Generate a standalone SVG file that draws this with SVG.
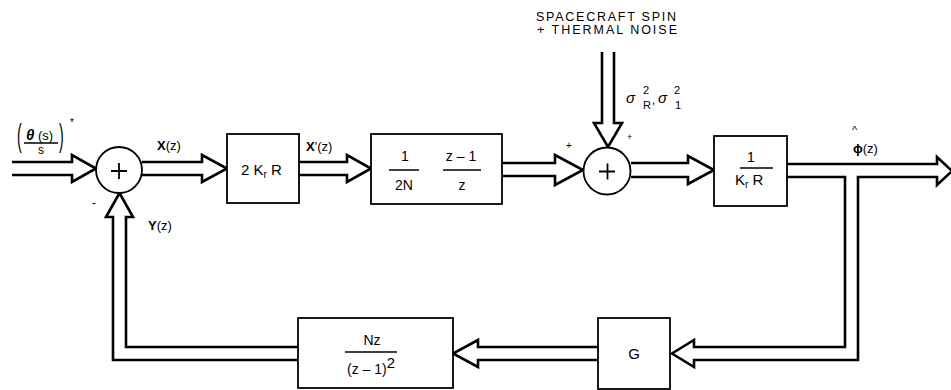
<svg xmlns="http://www.w3.org/2000/svg" width="951" height="390" viewBox="0 0 951 390">
<style>
text{font-family:"Liberation Sans",Arial,sans-serif;fill:#000}
.arr{fill:#fff;stroke:#000;stroke-width:2.6;stroke-linejoin:miter}
.box{fill:#fff;stroke:#000;stroke-width:1.8}
.sum{fill:#fff;stroke:#000;stroke-width:1.8}
.frac{stroke:#000;stroke-width:1.5}
.t13{font-size:13px}
.t14{font-size:14px}
.b{font-weight:bold}
</style>
<rect width="951" height="390" fill="#fff"/>
<g id="connectors">
<path class="arr" d="M12,162 H72 V155 L96,168.5 L72,182 V175 H12"/>
<path class="arr" d="M142,162 H202 V155 L227,168.5 L202,182 V175 H142"/>
<path class="arr" d="M299,162 H347 V155 L371,168.5 L347,182 V175 H299"/>
<path class="arr" d="M502,163 H555 V155 L583,170 L555,185 V176 H502"/>
<path class="arr" d="M602,52 V123 H594 L608,147 L622,123 H614 V52"/>
<path class="arr" d="M631,163 H688 V156 L714,170 L688,184 V177 H631"/>
<path class="arr" d="M787,164 H937 V157 L952,171 L937,185 V177 H858 V360 H694 V367 L672,353.5 L694,340 V347 H845 V177 H787"/>
<path class="arr" d="M598,347 H478 V340 L453,353.5 L478,367 V360 H598"/>
<path class="arr" d="M298,360 H113 V217 H106 L119.5,193 L133,217 H126 V347 H298"/>
</g>
<g id="sum1">
<circle class="sum" cx="119" cy="170" r="23"/>
<path d="M111,171 H127 M119,163 V179" stroke="#000" stroke-width="1.8"/>
</g>
<g id="sum2">
<circle class="sum" cx="607" cy="171" r="23.5"/>
<path d="M599,171.5 H615 M607.5,163.5 V179.5" stroke="#000" stroke-width="1.8"/>
</g>
<g id="box-gain">
<rect class="box" x="227" y="134" width="72" height="69"/>
<text x="241" y="175" font-size="15">2 K<tspan font-size="10" dy="3">r</tspan><tspan dy="-3"> R</tspan></text>
</g>
<g id="box-filter">
<rect class="box" x="371" y="134" width="131" height="70"/>
<text class="t14" x="405" y="161" text-anchor="middle">1</text>
<line class="frac" x1="389" y1="170" x2="419" y2="170"/>
<text class="t14" x="404" y="190" text-anchor="middle">2N</text>
<text class="t14" x="461" y="161" text-anchor="middle">z – 1</text>
<line class="frac" x1="443" y1="170" x2="481" y2="170"/>
<text class="t14" x="462" y="190" text-anchor="middle">z</text>
</g>
<g id="box-inv">
<rect class="box" x="714" y="136" width="73" height="70"/>
<text class="t14" x="751" y="162" text-anchor="middle">1</text>
<line class="frac" x1="740" y1="168" x2="773" y2="168"/>
<text x="735" y="185" font-size="15">K<tspan font-size="10" dy="3">r</tspan><tspan dy="-3"> R</tspan></text>
</g>
<g id="box-G">
<rect class="box" x="598" y="318" width="72" height="71"/>
<text x="634" y="359" font-size="15" text-anchor="middle">G</text>
</g>
<g id="box-Nz">
<rect class="box" x="298" y="318" width="155" height="70"/>
<text class="t14" x="372" y="345" text-anchor="middle">Nz</text>
<line class="frac" x1="345" y1="352" x2="397" y2="352"/>
<text class="t14" x="347" y="374">(z – 1)<tspan font-size="15" dy="-6">2</tspan></text>
</g>
<g id="labels">
<text transform="translate(17,146) scale(1,2.3)" font-size="14">(</text>
<text x="26" y="140" font-size="15" class="b" font-style="italic">θ</text>
<text x="38" y="140" class="t13">(s)</text>
<line class="frac" x1="24" y1="143" x2="58" y2="143"/>
<text x="41" y="154" font-size="12" text-anchor="middle">s</text>
<text transform="translate(59,146) scale(1,2.3)" font-size="14">)</text>
<text x="70" y="126" font-size="10">*</text>
<text x="157" y="150" class="t13"><tspan class="b">X</tspan>(z)</text>
<text x="148" y="230" class="t13"><tspan class="b">Y</tspan>(z)</text>
<text x="92" y="207" font-size="12">-</text>
<text x="306" y="151" class="t13"><tspan class="b">X</tspan>'(z)</text>
<text x="536" y="21" font-size="12.5" textLength="140" lengthAdjust="spacing">SPACECRAFT SPIN</text>
<text x="537" y="34" font-size="12.5" textLength="140" lengthAdjust="spacing">+ THERMAL NOISE</text>
<text x="626" y="103" font-size="15" font-family="Liberation Serif" font-style="italic">σ</text>
<text x="643" y="94" font-size="11">2</text>
<text x="643" y="109" font-size="11">R</text>
<text x="652" y="104" font-size="12">,</text>
<text x="658" y="103" font-size="15" font-family="Liberation Serif" font-style="italic">σ</text>
<text x="674" y="94" font-size="11">2</text>
<text x="675" y="109" font-size="11">1</text>
<text x="566" y="149" font-size="10">+</text>
<text x="627" y="140" font-size="9">+</text>
<text x="852" y="134" font-size="11">^</text>
<text x="853" y="153" class="t13"><tspan class="b">ϕ</tspan>(z)</text>
</g>
</svg>
